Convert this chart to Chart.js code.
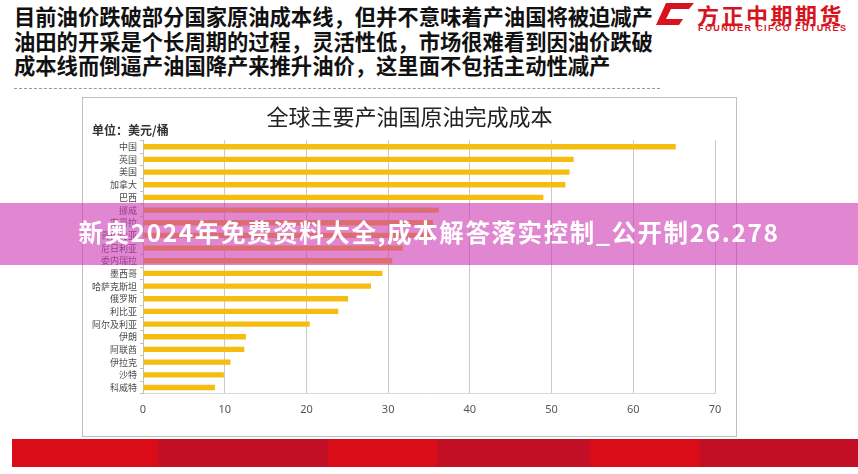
<!DOCTYPE html>
<html>
<head>
<meta charset="utf-8">
<script src="https://cdn.jsdelivr.net/npm/chart.js@4.4.1/dist/chart.umd.min.js"></script>
<style>
  html, body { margin: 0; padding: 0; background: #fff; }
  body { width: 858px; height: 474px; position: relative; overflow: hidden; font-family: "Noto Sans CJK SC", "Noto Sans", sans-serif; }
  .head { position: absolute; left: 14px; top: 4px; font-size: 21.3px; line-height: 24.5px; font-weight: bold; color: #111; white-space: nowrap; }
  .dash { position: absolute; left: 14px; top: 88px; width: 646px; border-top: 1px dashed #999; }
  .logo-cn { position: absolute; left: 697px; top: -2px; font-size: 22px; font-weight: bold; color: #d7141e; letter-spacing: 2.5px; white-space: nowrap; }
  .logo-en { position: absolute; left: 698px; top: 23px; font-size: 9px; font-weight: bold; color: #d7141e; letter-spacing: 1.4px; font-family: "Liberation Sans", sans-serif; white-space: nowrap; }
  .logo-icon { position: absolute; left: 656px; top: 3px; }
  .frame { position: absolute; left: 82px; top: 97px; width: 653px; height: 338px; border: 1px solid #bfbfbf; }
  #wrap { position: absolute; left: 82px; top: 97px; width: 655px; height: 340px; }
  .unit { position: absolute; left: 92px; top: 121px; font-size: 12px; font-weight: bold; color: #333; white-space: nowrap; }
  .band { position: absolute; left: 0; top: 203px; width: 858px; height: 62px; background: rgba(205, 55, 180, 0.6); }
  .band span { position: absolute; left: 0; width: 858px; top: 14px; text-align: center; color: #fff; font-size: 24.5px; font-weight: bold; letter-spacing: 1.6px; line-height: 30px; white-space: nowrap; }
  .foot { position: absolute; left: 12px; top: 439px; width: 846px; height: 28px;
    background: linear-gradient(to right, #d90c17 0 146px, #c20f25 146px 316px, #d90c17 316px 425px, #c20f25 425px 578px, #d90c17 578px 688px, #c20f25 688px); }
</style>
</head>
<body>
<div class="head">目前油价跌破部分国家原油成本线，但并不意味着产油国将被迫减产<br>油田的开采是个长周期的过程，灵活性低，市场很难看到因油价跌破<br>成本线而倒逼产油国降产来推升油价，这里面不包括主动性减产</div>
<svg class="logo-icon" width="38" height="22" viewBox="0 0 38 22">
  <polygon points="10,0 38,0 33,6 15,6 10,16 27,16 23,22 0,22" fill="#d7141e"/>
</svg>
<div class="logo-cn">方正中期期货</div>
<div class="logo-en">FOUNDER CIFCO FUTURES</div>
<div class="dash"></div>
<div class="frame"></div>
<div id="wrap"><canvas id="costChart"></canvas></div>
<div class="unit">单位：美元/桶</div>
<div class="band"><span>新奥2024年免费资料大全,成本解答落实控制_公开制26.278</span></div>
<div class="foot"></div>
<script>
const countries = ['中国', '英国', '美国', '加拿大', '巴西', '挪威', '安哥拉', '哥伦比亚', '尼日利亚', '委内瑞拉',
    '墨西哥', '哈萨克斯坦', '俄罗斯', '利比亚', '阿尔及利亚', '伊朗', '阿联酋', '伊拉克', '沙特', '科威特'];
const costs = [65.2, 52.7, 52.2, 51.7, 49.0, 36.2, 35.5, 35.3, 31.8, 30.5,
    29.3, 27.9, 25.1, 23.9, 20.4, 12.6, 12.4, 10.7, 9.9, 8.8];
const xTicks = [0, 10, 20, 30, 40, 50, 60, 70];

const barColor = '#f5bd12';
const gridColor = '#c9c9c9';
const textColor = '#555555';

const ctx = document.getElementById('costChart').getContext('2d');
new Chart(ctx, {
    type: 'bar',
    data: {
        labels: countries,
        datasets: [{
            label: '原油完成成本',
            data: costs,
            backgroundColor: barColor,
            borderWidth: 0,
            barPercentage: 0.42,
            categoryPercentage: 1
        }]
    },
    options: {
        indexAxis: 'y',
        responsive: true,
        maintainAspectRatio: false,
        animation: false,
        layout: {
            padding: { left: 0, right: 22, top: 0, bottom: 12 }
        },
        scales: {
            x: {
                min: 0,
                max: 70,
                afterBuildTicks: axis => { axis.ticks = xTicks.map(v => ({ value: v })); },
                ticks: {
                    color: textColor,
                    padding: 9,
                    font: { family: 'Noto Sans', size: 11 }
                },
                grid: {
                    color: gridColor,
                    tickLength: 0
                },
                border: { display: true, color: '#d9d9d9' }
            },
            y: {
                afterFit: axis => { axis.width = 61; },
                ticks: {
                    color: '#4a4a4a',
                    padding: 3,
                    autoSkip: false,
                    font: { family: 'Noto Sans CJK SC', size: 9 }
                },
                grid: {
                    drawOnChartArea: false,
                    color: '#bfbfbf',
                    tickLength: 3
                },
                border: { display: true, color: '#bfbfbf' }
            }
        },
        plugins: {
            legend: { display: false },
            tooltip: { enabled: false },
            title: {
                display: true,
                // leading em space nudges the centred title right, as in the slide
                text: '\u2003全球主要产油国原油完成成本',
                color: '#222',
                font: { family: 'Noto Sans CJK SC', size: 22, weight: 'normal', lineHeight: 1.2 },
                padding: { top: 6, bottom: 11 }
            }
        }
    }
});
</script>
</body>
</html>
